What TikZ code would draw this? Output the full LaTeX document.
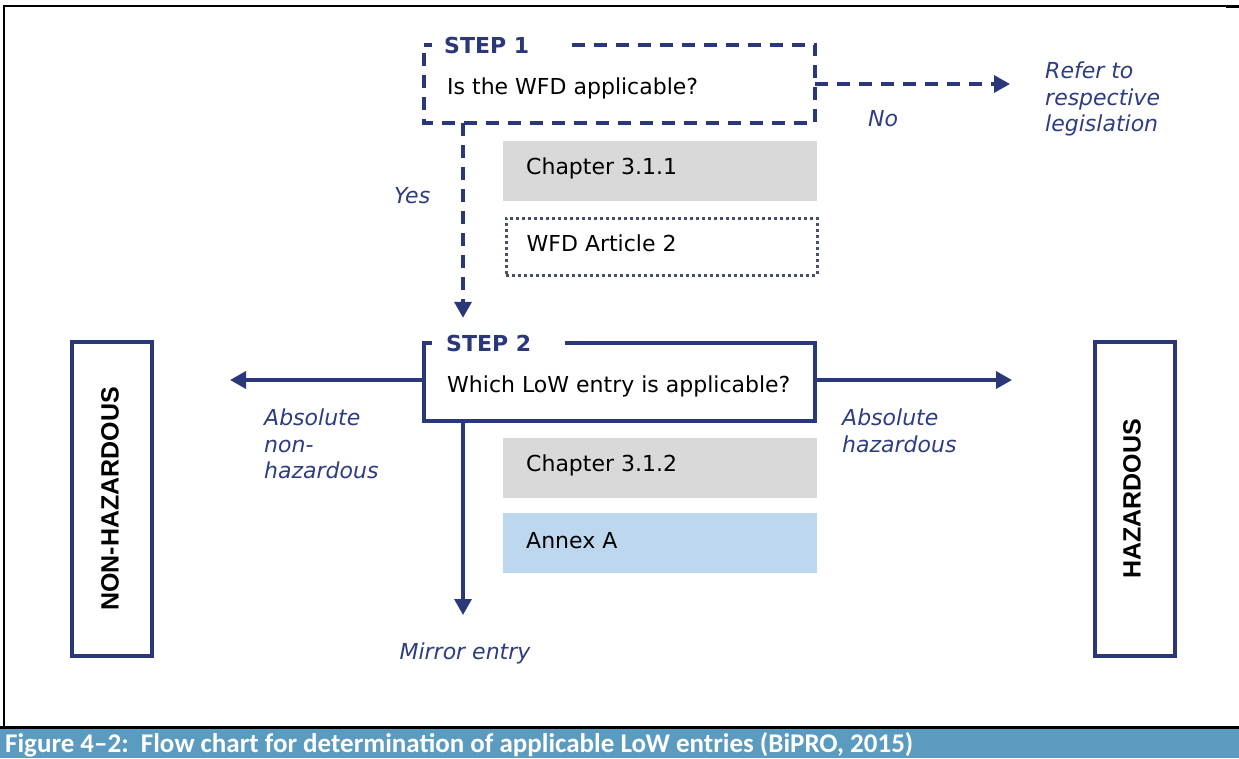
\documentclass[tikz,border=0pt]{standalone}
\usepackage{fontspec}
\setmainfont{DejaVu Sans}
\newfontfamily\capfont{Carlito}
\newfontfamily\boxfont{Liberation Sans}
\usetikzlibrary{arrows.meta,calc}
\definecolor{navy}{RGB}{42,56,122}
\definecolor{navytext}{RGB}{46,60,128}
\definecolor{greyfill}{RGB}{217,217,217}
\definecolor{bluefill}{RGB}{189,215,238}
\definecolor{dotcol}{RGB}{72,80,104}
\definecolor{capbar}{RGB}{91,155,192}
\begin{document}
\begin{tikzpicture}[x=1pt,y=-1pt,
  mainfont/.style={font=\fontsize{22}{26}\selectfont},
  steplabel/.style={font=\fontsize{22}{26}\selectfont\bfseries, text=navy, anchor=west, inner sep=0pt},
  stepframe/.style={minimum width=391pt, minimum height=78pt, inner sep=0pt, draw=none},
  refbox/.style={minimum width=314pt, minimum height=60pt, inner sep=0pt, anchor=north west},
  reftext/.style={font=\fontsize{22}{26}\selectfont, anchor=west, inner sep=0pt},
  lbl/.style={font=\fontsize{22}{26.5}\selectfont\itshape, text=navytext, align=left, inner sep=0pt},
  conn/.style={draw=navy, line width=3.5pt},
  dashln/.style={dash pattern=on 13pt off 9pt},
  arrowtip/.style={-{Triangle[length=16pt,width=17pt]}},
  outcome/.style={draw=navy, line width=3.5pt, minimum width=80pt, minimum height=314pt, inner sep=0pt},
  outtext/.style={font=\fontsize{25}{28}\boxfont\bfseries, rotate=90, inner sep=0pt}
]
\useasboundingbox (0,0) rectangle (1239,758);
% outer frame
\draw[line width=2pt] (4,730) -- (4,6) -- (1226,6);
\draw[line width=3pt] (1226,6.5) -- (1239,6.5);
\fill[capbar] (0,728) rectangle (1239,758);
\draw[line width=3pt] (0,727) -- (1239,727);
\node[font=\fontsize{27}{28}\capfont\bfseries, text=white, anchor=west, inner sep=0pt] (cap) at (5,745) {Figure 4–2:\ \ Flow chart for determination of applicable LoW entries (BiPRO, 2015)};

% STEP 1
\node[stepframe] (s1) at (619.5,84) {};
\draw[conn,dashln] ($(s1.north west)+(148,0)$) -- (s1.north east) -- (s1.south east) -- (s1.south west) -- (s1.north west) -- ++(8,0);
\node[steplabel] (s1l) at (444,45) {STEP 1};
\node[mainfont, anchor=west, inner sep=0pt] (s1q) at (447,88) {Is the WFD applicable?};

\coordinate (notip) at (1010,84);
\draw[conn,dashln,arrowtip] (s1.east) -- (notip);
\node[lbl, anchor=west] (nol) at (868,119) {No};
\node[lbl, anchor=north west] (refer) at (1045,62) {Refer to\\respective\\legislation};

\node[refbox, fill=greyfill] (c311) at (503,141) {};
\node[reftext] at ($(c311.west)+(23,-3)$) {Chapter 3.1.1};
\node[refbox, draw=dotcol, line width=3pt, dash pattern=on 3pt off 3pt, minimum width=311pt, minimum height=57pt] (wfd) at (504.5,216.5) {};
\node[reftext] at ($(wfd.west)+(22,-3)$) {WFD Article 2};

% STEP 2
\node[stepframe] (s2) at (619.5,382) {};
\draw[conn] ($(s2.north west)+(141,0)$) -- (s2.north east) -- (s2.south east) -- (s2.south west) -- (s2.north west) -- ++(8,0);
\node[steplabel] (s2l) at (446,343) {STEP 2};
\node[mainfont, anchor=west, inner sep=0pt] (s2q) at (447,386) {Which LoW entry is applicable?};

\coordinate (vx) at (463,0);
\draw[conn,dashln,arrowtip] (s1.south west -| vx) -- ($(s2.north west -| vx)+(0,-25)$);
\node[lbl, anchor=west] (yes) at (394,196) {Yes};

\node[refbox, fill=greyfill] (c312) at (503,438) {};
\node[reftext] at ($(c312.west)+(23,-3)$) {Chapter 3.1.2};
\node[refbox, fill=bluefill] (annex) at (503,513) {};
\node[reftext] at ($(annex.west)+(23,-3)$) {Annex A};

\coordinate (lefttip) at (230,380);
\coordinate (righttip) at (1012,380);
\coordinate (downtip) at (463,615);
\draw[conn,arrowtip] (s2.west |- lefttip) -- (lefttip);
\draw[conn,arrowtip] (s2.east |- righttip) -- (righttip);
\draw[conn,arrowtip] (s2.south west -| vx) -- (downtip);

\node[lbl, anchor=north west] (absnon) at (264,409) {Absolute\\non-\\hazardous};
\node[lbl, anchor=north west] (abshaz) at (842,409) {Absolute\\hazardous};
\node[lbl] (mirror) at (465,653) {Mirror entry};

\node[outcome] (nonhaz) at (112,499) {};
\node[outtext] at (110,499) {NON-HAZARDOUS};
\node[outcome] (haz) at (1135,499) {};
\node[outtext] at (1132,499) {HAZARDOUS};
\end{tikzpicture}
\end{document}
